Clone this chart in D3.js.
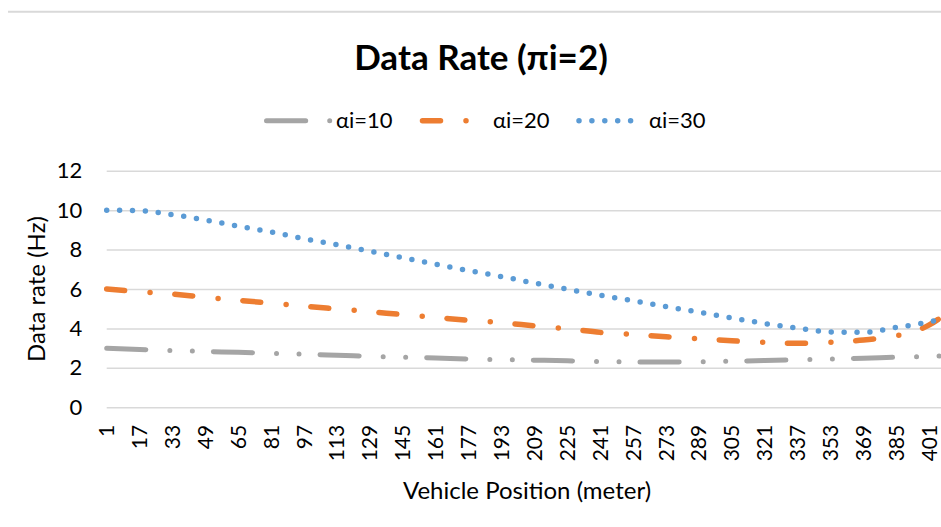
<!DOCTYPE html>
<html>
<head>
<meta charset="utf-8">
<script src="https://cdn.jsdelivr.net/npm/d3@7"></script>
<style>
  html, body { margin: 0; padding: 0; background: #fff; }
  svg { display: block; font-family: Lato, "Open Sans", sans-serif; }
</style>
</head>
<body>
<svg id="chart" width="941" height="527"></svg>
<script>
// ---- data ----
const positions = [1, 17, 33, 49, 65, 81, 97, 113, 129, 145, 161, 177, 193, 209, 225, 241, 257, 273, 289, 305, 321, 337, 353, 369, 385, 401, 407];
const xTickLabels = ["1","17","33","49","65","81","97","113","129","145","161","177","193","209","225","241","257","273","289","305","321","337","353","369","385","401"];
const yTicks = [0, 2, 4, 6, 8, 10, 12];
const seriesNames = ["αi=10", "αi=20", "αi=30"];
const alpha10 = [2.99, 2.93, 2.88, 2.83, 2.79, 2.74, 2.69, 2.64, 2.59, 2.54, 2.50, 2.45, 2.42, 2.39, 2.36, 2.32, 2.30, 2.30, 2.31, 2.34, 2.37, 2.41, 2.45, 2.49, 2.54, 2.58, 2.60];
const alpha20 = [6.00, 5.86, 5.74, 5.58, 5.43, 5.28, 5.13, 4.99, 4.85, 4.70, 4.56, 4.41, 4.29, 4.13, 3.98, 3.80, 3.69, 3.58, 3.48, 3.38, 3.29, 3.25, 3.30, 3.41, 3.63, 4.18, 4.58];
const alpha30 = [10.0, 9.97, 9.77, 9.50, 9.19, 8.89, 8.55, 8.24, 7.91, 7.59, 7.26, 6.93, 6.63, 6.30, 5.99, 5.68, 5.40, 5.11, 4.82, 4.53, 4.25, 4.01, 3.82, 3.80, 4.05, 4.33, 4.48];

// ---- styles ----
const styles = [
  { color: "#a5a5a5", width: 5,   dash: "39.2,24,0,22.5,0,21",  legendX0: 266.5, legendX1: 332, textX: 336 },
  { color: "#ed7d31", width: 5.5, dash: "18,25.5,0,24.8",        legendX0: 422.5, legendX1: 490, textX: 493 },
  { color: "#5b9bd5", width: 5.5, dash: "0,12.9",                legendX0: 579,   legendX1: 634, textX: 649 }
];
const seriesData = [alpha10, alpha20, alpha30];

const svg = d3.select("#chart");
const W = 941;

const x = d3.scaleLinear().domain([1, 401]).range([106.7, 929.3]);
const y = d3.scaleLinear().domain([0, 12]).range([407.3, 170.7]);

// top border line
svg.append("line")
  .attr("x1", 8).attr("x2", W).attr("y1", 11.7).attr("y2", 11.7)
  .attr("stroke", "#d9d9d9").attr("stroke-width", 2);

// title
svg.append("text")
  .attr("x", 481).attr("y", 70)
  .attr("text-anchor", "middle")
  .attr("font-size", 35).attr("font-weight", "bold").attr("fill", "#000")
  .text("Data Rate (πi=2)");

// gridlines
const grid = svg.append("g").attr("transform", `translate(${x(1)},0)`)
  .call(d3.axisLeft(y).tickValues(yTicks).tickSize(-(W - x(1))).tickFormat(""));
grid.select(".domain").remove();
grid.selectAll(".tick line").attr("stroke", "#d9d9d9").attr("stroke-width", 1.5);

// y axis labels
const yAxis = svg.append("g").attr("transform", `translate(${x(1)},0)`)
  .call(d3.axisLeft(y).tickValues(yTicks).tickSize(0).tickPadding(24.5));
yAxis.select(".domain").remove();
yAxis.selectAll("text").attr("font-size", 22).attr("fill", "#000").attr("font-family", "Lato, sans-serif");

// x axis labels (rotated)
const xAxis = svg.append("g").attr("transform", `translate(0,${y(0)})`)
  .call(d3.axisBottom(x).tickValues(xTickLabels.map(Number)).tickSize(0).tickFormat((d, i) => xTickLabels[i]));
xAxis.select(".domain").remove();
xAxis.selectAll("text")
  .attr("font-size", 21).attr("fill", "#000").attr("font-family", "Lato, sans-serif")
  .attr("text-anchor", "end")
  .attr("transform", "rotate(-90)")
  .attr("x", -17.5).attr("y", 0).attr("dy", "0.33em");

// axis titles
svg.append("text")
  .attr("transform", "translate(45,289) rotate(-90)")
  .attr("text-anchor", "middle").attr("font-size", 24).attr("fill", "#000")
  .text("Data rate (Hz)");
svg.append("text")
  .attr("x", 527).attr("y", 499)
  .attr("text-anchor", "middle").attr("font-size", 24).attr("fill", "#000")
  .text("Vehicle Position (meter)");

// lines
const line = d3.line()
  .x((d, i) => x(positions[i]))
  .y(d => y(d))
  .curve(d3.curveMonotoneX);

seriesData.forEach((vals, k) => {
  const s = styles[k];
  svg.append("path")
    .datum(vals)
    .attr("d", line)
    .attr("fill", "none")
    .attr("stroke", s.color)
    .attr("stroke-width", s.width)
    .attr("stroke-dasharray", s.dash)
    .attr("stroke-linecap", "round");
});

// legend
const ly = 120.7;
seriesNames.forEach((name, k) => {
  const s = styles[k];
  svg.append("line")
    .attr("x1", s.legendX0).attr("x2", s.legendX1).attr("y1", ly).attr("y2", ly)
    .attr("stroke", s.color).attr("stroke-width", s.width)
    .attr("stroke-dasharray", s.dash).attr("stroke-linecap", "round");
  svg.append("text")
    .attr("x", s.textX).attr("y", ly).attr("dy", "0.35em")
    .attr("font-size", 22).attr("fill", "#000")
    .text(name);
});
</script>
</body>
</html>
